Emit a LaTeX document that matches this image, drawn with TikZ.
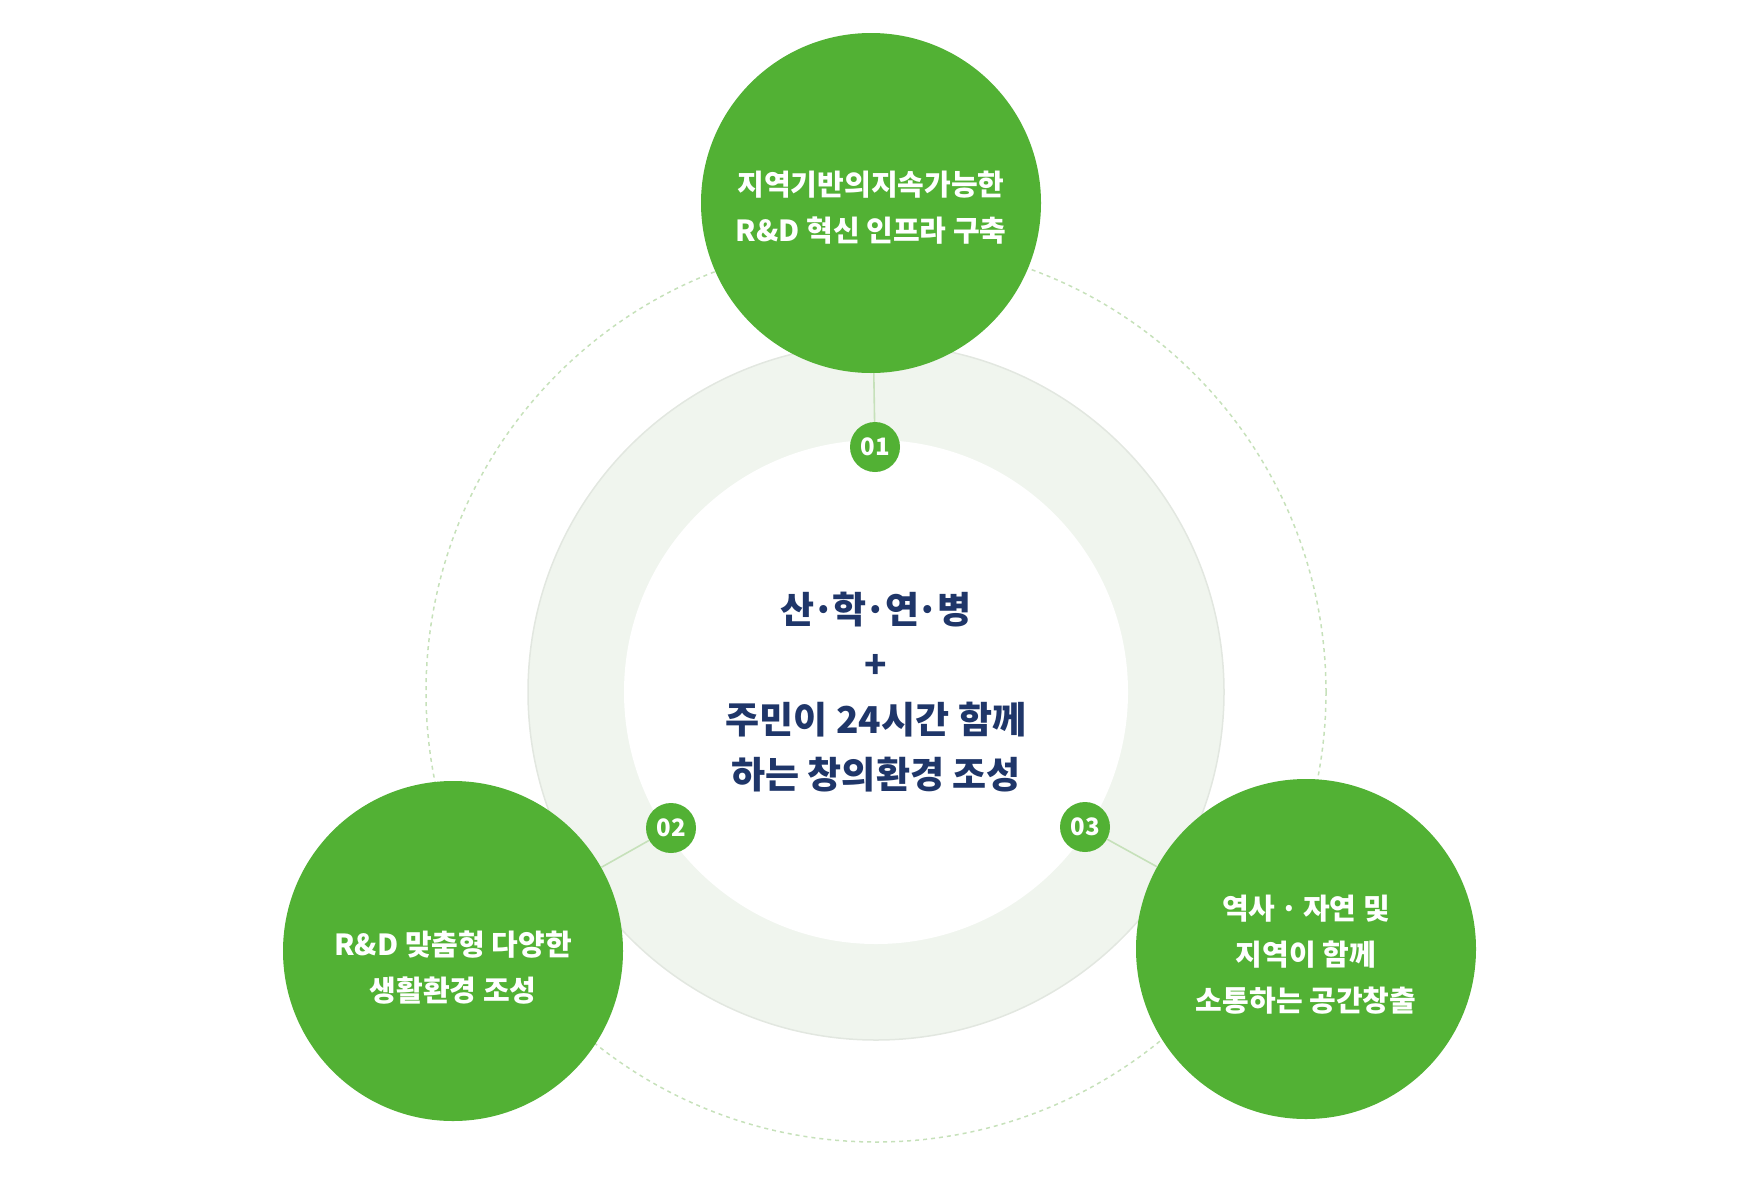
\documentclass[tikz,border=0pt]{standalone}
\usepackage{fontspec}
\setmainfont{Noto Sans CJK KR}
\definecolor{leafgreen}{RGB}{82,177,52}
\definecolor{navytext}{RGB}{31,54,105}
\definecolor{ringfill}{RGB}{240,245,238}
\definecolor{ringedge}{RGB}{226,231,224}
\definecolor{paleline}{RGB}{198,225,186}
\newcommand{\mdot}{\kern-.06em·\kern-.06em}

\begin{document}
\begin{tikzpicture}[x=1pt,y=-1pt,
        goal/.style={circle,fill=leafgreen,minimum size=340pt,inner sep=0pt},
        goaltext/.style={text=white,align=center,font=\fontsize{29}{46}\selectfont\bfseries},
        num/.style={circle,fill=leafgreen,minimum size=50pt,inner sep=0pt,
            text=white,font=\fontsize{24}{24}\selectfont\bfseries},
        link/.style={draw=paleline,line width=1.6pt}]
        \useasboundingbox (0,0) rectangle (1760,1183);
        \coordinate (c) at (876,692);

        % rings behind
        \draw[paleline,line width=1.5pt,dash pattern=on 4pt off 4pt] (c) circle[radius=450pt];
        \filldraw[fill=ringfill,draw=ringedge,line width=1.5pt] (c) circle[radius=348pt];
        \fill[white] (c) circle[radius=252pt];

        \node (vision) at (c) [text=navytext,align=center,
            font=\fontsize{37}{55}\selectfont\bfseries]
            {산\mdot 학\mdot 연\mdot 병\\+\\주민이 24시간 함께\\하는 창의환경 조성};

        \node (g1) at (871,203) [goal] {};
        \node (g2) at (453,951) [goal] {};
        \node (g3) at (1306,949) [goal] {};
        \node (t1) at ([yshift=-5pt]g1.center) [goaltext] {지역기반의지속가능한\\R\&D 혁신 인프라 구축};
        \node (t2) at ([yshift=-17pt]g2.center) [goaltext] {R\&D 맞춤형 다양한\\생활환경 조성};
        \node (t3) at ([yshift=-6pt]g3.center) [goaltext] {역사\,·\,자연 및\\지역이 함께\\소통하는 공간창출};

        \node (n1) at (875,447) [num] {01};
        \node (n2) at (671,828) [num] {02};
        \node (n3) at (1085,827) [num] {03};

        \draw[link] (g1) -- (n1);
        \draw[link] (n2) -- (g2);
        \draw[link] (n3) -- (g3);
    \end{tikzpicture}
\end{document}
